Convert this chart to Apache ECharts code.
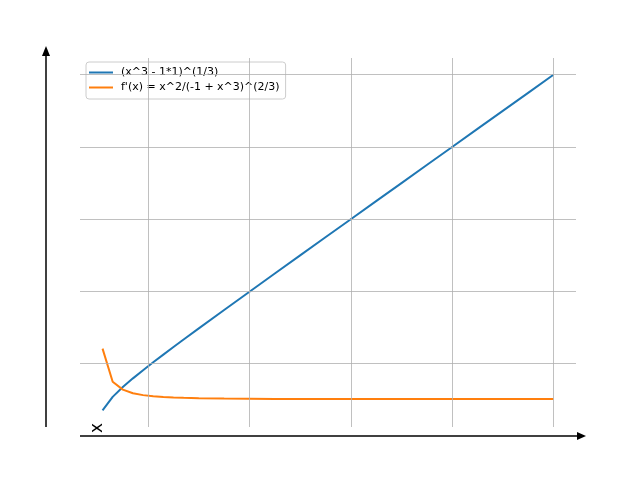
<!DOCTYPE html>
<html style="height: 100%">
<head>
  <meta charset="utf-8">
</head>
<body style="height: 100%; margin: 0; background: #fff">
  <div id="container" style="width: 640px; height: 480px"></div>

  <script type="text/javascript" src="https://fastly.jsdelivr.net/npm/echarts@6.0.0/dist/echarts.min.js"></script>
  <script type="text/javascript">
    // sample points
    var xs = [1.1, 1.3, 1.5, 1.7, 1.9, 2.1, 2.3, 2.5, 2.7, 3.0, 3.5, 4.0, 4.5, 5.0,
              5.5, 6.0, 6.5, 7.0, 7.5, 8.0, 8.5, 9.0, 9.5, 10.0];
    var fVals = [0.69, 1.062, 1.334, 1.576, 1.803, 2.022, 2.235, 2.446, 2.654, 2.962,
                 3.473, 3.979, 4.484, 4.987, 5.489, 5.991, 6.492, 6.993, 7.494, 7.995,
                 8.495, 8.996, 9.496, 9.997];
    var dVals = [2.40, 1.48, 1.264, 1.164, 1.111, 1.079, 1.059, 1.045, 1.035, 1.026,
                 1.016, 1.011, 1.007, 1.005, 1.004, 1.003, 1.002, 1.002, 1.002, 1.001,
                 1.001, 1.001, 1.001, 1.001];
    var xGrid = [2, 4, 6, 8, 10];
    var yGrid = [2, 4, 6, 8, 10];
    var names = ['(x^3 - 1*1)^(1/3)', "f'(x) = x^2/(-1 + x^3)^(2/3)"];

    function pairs(a, b) {
      return a.map(function (v, i) { return [v, b[i]]; });
    }

    var gridMarks = xGrid.map(function (v) { return { xAxis: v }; })
      .concat(yGrid.map(function (v) { return { yAxis: v }; }));

    var myChart = echarts.init(document.getElementById('container'), null, { renderer: 'canvas' });
    var hidden = {
      axisLine: { show: false }, axisTick: { show: false },
      axisLabel: { show: false }, splitLine: { show: false }
    };

    var option = {
      animation: false,
      textStyle: { fontFamily: 'DejaVu Sans' },
      grid: { left: 80, right: 64, top: 58, bottom: 53 },
      xAxis: Object.assign({ type: 'value', min: 0.655, max: 10.445 }, hidden),
      yAxis: Object.assign({ type: 'value', min: 0.227, max: 10.462 }, hidden),
      legend: {
        data: names,
        orient: 'vertical',
        left: 86, top: 62,
        padding: [5, 6, 6, 3],
        icon: 'rect',
        itemWidth: 24, itemHeight: 2, itemGap: 4,
        backgroundColor: 'rgba(255,255,255,0.8)',
        borderColor: '#cccccc', borderWidth: 1, borderRadius: 3,
        textStyle: { fontSize: 11, color: '#000', padding: [0, 0, 0, 3], fontFamily: 'DejaVu Sans' }
      },
      graphic: [
        { type: 'line', shape: { x1: 46, y1: 427, x2: 46, y2: 54 }, style: { stroke: '#000', lineWidth: 1.5 } },
        { type: 'polygon', shape: { points: [[42, 56], [50, 56], [46, 46]] }, style: { fill: '#000' } },
        { type: 'line', shape: { x1: 80, y1: 436, x2: 578, y2: 436 }, style: { stroke: '#000', lineWidth: 1.5 } },
        { type: 'polygon', shape: { points: [[577, 432], [577, 440], [586, 436]] }, style: { fill: '#000' } },
        { type: 'text', x: 98, y: 428, rotation: Math.PI / 2,
          style: { text: 'x', fontSize: 17, fontFamily: 'DejaVu Sans', fill: '#000', align: 'center', verticalAlign: 'middle' } }
      ],
      series: [
        {
          name: 'grid', type: 'line', data: [], z: 1, silent: true,
          markLine: {
            silent: true, symbol: 'none', animation: false,
            label: { show: false },
            lineStyle: { color: '#b0b0b0', width: 0.8, type: 'solid' },
            emphasis: { disabled: true },
            data: gridMarks
          }
        },
        {
          name: names[0], type: 'line', data: pairs(xs, fVals), symbol: 'none', z: 3,
          color: '#1f77b4', lineStyle: { color: '#1f77b4', width: 2 }
        },
        {
          name: names[1], type: 'line', data: pairs(xs, dVals), symbol: 'none', z: 3,
          color: '#ff7f0e', lineStyle: { color: '#ff7f0e', width: 2 }
        }
      ]
    };

    myChart.setOption(option);
    window.addEventListener('resize', myChart.resize);
  </script>
</body>
</html>
